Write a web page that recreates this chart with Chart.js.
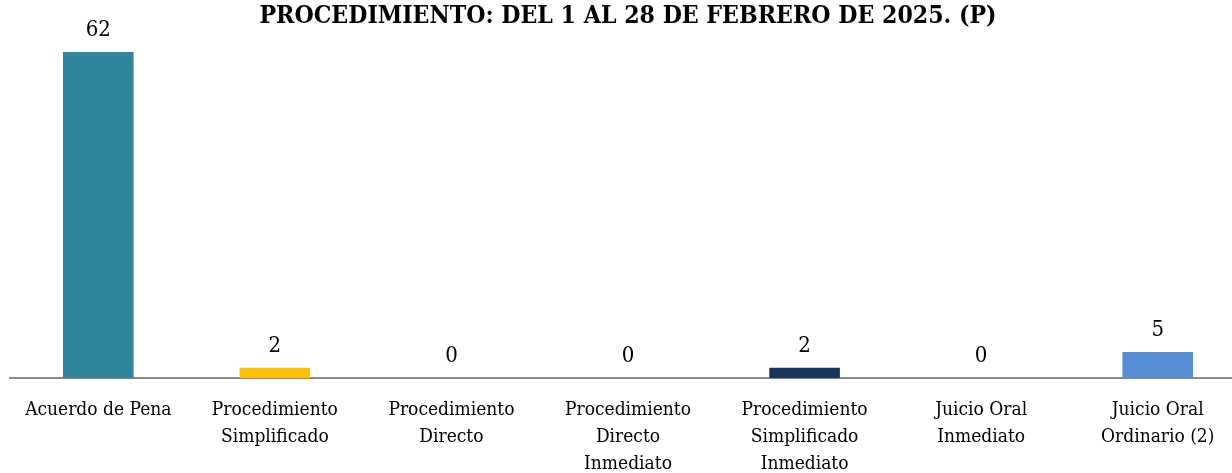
<!DOCTYPE html>
<html>
<head>
<meta charset="utf-8">
<script src="https://cdn.jsdelivr.net/npm/chart.js@4.4.1/dist/chart.umd.min.js"></script>
<style>
  html, body { margin: 0; padding: 0; background: #fff; overflow: hidden; }
  #wrap { position: absolute; left: 0; top: 0; width: 1246px; height: 488px; }
</style>
</head>
<body>
<div id="wrap"><canvas id="chart"></canvas></div>
<script>
// categorías (etiquetas en varias líneas)
const categories = [
    ['Acuerdo de Pena'],
    ['Procedimiento', 'Simplificado'],
    ['Procedimiento', 'Directo'],
    ['Procedimiento', 'Directo', 'Inmediato'],
    ['Procedimiento', 'Simplificado', 'Inmediato'],
    ['Juicio Oral', 'Inmediato'],
    ['Juicio Oral', 'Ordinario (2)']
];
const values = [62, 2, 0, 0, 2, 0, 5];
const titleText = 'PROCEDIMIENTO: DEL 1 AL 28 DE FEBRERO DE 2025. (P)';

const barColors = ['#31869B', '#FFC000', '#4F81BD', '#C0504D', '#17375E', '#9BBB59', '#558ED5'];
const serif = "'DejaVu Serif Condensed', 'DejaVu Serif', serif";

// valores encima de cada barra
const valueLabels = {
    id: 'valueLabels',
    afterDatasetsDraw(chart) {
        const ctx = chart.ctx;
        const meta = chart.getDatasetMeta(0);
        ctx.save();
        ctx.font = '22px ' + serif;
        ctx.fillStyle = '#000';
        ctx.textAlign = 'center';
        ctx.textBaseline = 'alphabetic';
        meta.data.forEach((bar, i) => {
            ctx.fillText(String(values[i]), bar.x, bar.y - 16);
        });
        ctx.restore();
    }
};

new Chart(document.getElementById('chart'), {
    type: 'bar',
    data: {
        labels: categories,
        datasets: [{
            data: values,
            backgroundColor: barColors,
            borderWidth: 0,
            barPercentage: 0.4,
            categoryPercentage: 1
        }]
    },
    options: {
        responsive: true,
        maintainAspectRatio: false,
        animation: false,
        layout: { padding: { left: 10, right: 0, top: 0, bottom: 0 } },
        plugins: {
            legend: { display: false },
            tooltip: { enabled: false },
            title: {
                display: true,
                text: titleText,
                color: '#000',
                font: { family: serif, size: 24.6, weight: 'bold', lineHeight: 1.2 },
                padding: { top: 2, bottom: 20.5 }
            }
        },
        scales: {
            x: {
                grid: { display: false },
                border: { color: '#898989', width: 2 },
                ticks: {
                    color: '#000',
                    padding: 11,
                    maxRotation: 0,
                    autoSkip: false,
                    font: { family: serif, size: 19, lineHeight: 1.4 }
                }
            },
            y: {
                display: false,
                min: 0,
                max: 62
            }
        }
    },
    plugins: [valueLabels]
});
</script>
</body>
</html>
